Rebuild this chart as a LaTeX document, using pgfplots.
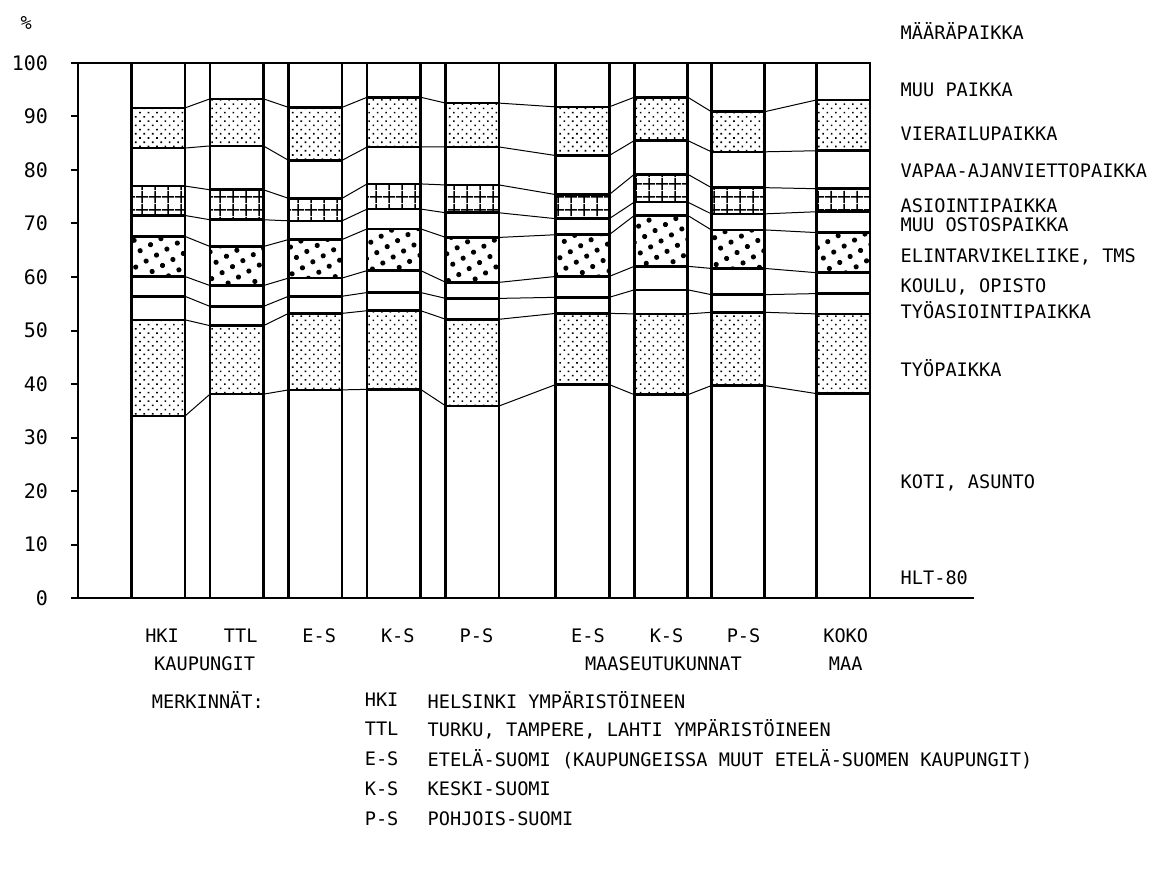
\documentclass[border=0pt]{standalone}
\usepackage{fontspec}
\setmainfont{DejaVu Sans Mono}
\usepackage{pgfplots}
\pgfplotsset{compat=1.18}
\usepackage{pgfplotstable}
\usetikzlibrary{patterns,patterns.meta}

% cumulative tops of the segments (koti ... vierailu, muu paikka = 100)
\pgfplotstableread{
x    c1   c2   c3   c4   c5   c6   c7   c8   c9   c10
0    34.0 52.0 56.4 60.1 67.6 71.5 77.0 84.1 91.6 100
1    38.1 50.9 54.5 58.4 65.7 70.7 76.3 84.5 93.3 100
2    38.9 53.2 56.4 59.8 67.0 70.5 74.7 81.8 91.7 100
3    39.0 53.7 57.1 61.2 69.0 72.7 77.4 84.3 93.6 100
4    35.9 52.1 56.0 59.0 67.4 72.0 77.2 84.3 92.5 100
5.4  39.9 53.2 56.2 60.1 67.9 70.9 75.4 82.7 91.8 100
6.4  38.0 53.1 57.6 62.0 71.5 74.0 79.2 85.5 93.6 100
7.38 39.7 53.4 56.7 61.6 68.8 71.8 76.7 83.4 90.9 100
8.72 38.2 53.1 56.9 60.8 68.3 72.2 76.5 83.6 93.1 100
}\bars

% same values at the left and right edge of each bar, for the joining lines
\pgfplotstableread{
xe   c1   c2   c3   c4   c5   c6   c7   c8   c9
-0.34 34.0 52.0 56.4 60.1 67.6 71.5 77.0 84.1 91.6
0.34  34.0 52.0 56.4 60.1 67.6 71.5 77.0 84.1 91.6
0.66  38.1 50.9 54.5 58.4 65.7 70.7 76.3 84.5 93.3
1.34  38.1 50.9 54.5 58.4 65.7 70.7 76.3 84.5 93.3
1.66  38.9 53.2 56.4 59.8 67.0 70.5 74.7 81.8 91.7
2.34  38.9 53.2 56.4 59.8 67.0 70.5 74.7 81.8 91.7
2.66  39.0 53.7 57.1 61.2 69.0 72.7 77.4 84.3 93.6
3.34  39.0 53.7 57.1 61.2 69.0 72.7 77.4 84.3 93.6
3.66  35.9 52.1 56.0 59.0 67.4 72.0 77.2 84.3 92.5
4.34  35.9 52.1 56.0 59.0 67.4 72.0 77.2 84.3 92.5
5.06  39.9 53.2 56.2 60.1 67.9 70.9 75.4 82.7 91.8
5.74  39.9 53.2 56.2 60.1 67.9 70.9 75.4 82.7 91.8
6.06  38.0 53.1 57.6 62.0 71.5 74.0 79.2 85.5 93.6
6.74  38.0 53.1 57.6 62.0 71.5 74.0 79.2 85.5 93.6
7.04  39.7 53.4 56.7 61.6 68.8 71.8 76.7 83.4 90.9
7.72  39.7 53.4 56.7 61.6 68.8 71.8 76.7 83.4 90.9
8.38  38.2 53.1 56.9 60.8 68.3 72.2 76.5 83.6 93.1
9.06  38.2 53.1 56.9 60.8 68.3 72.2 76.5 83.6 93.1
}\edges

\newcommand\lf{\fontsize{9.3}{11}\selectfont}

\tikzset{
  seg/.style={ybar, bar width=0.68, bar shift=0pt, draw=black, line width=1.3pt, fill=white},
  finedots/.style={postaction={pattern={Dots[distance=3pt, radius=0.55pt, angle=45]}}},
  bigdots/.style={postaction={pattern={Dots[distance=6pt, radius=1.3pt, angle=30]}}},
  gridpat/.style={postaction={pattern={Hatch[angle=0, distance=6.5pt, line width=0.8pt]}}},
}

\begin{document}
\begin{tikzpicture}[font=\lf]
\useasboundingbox (-39pt,-137pt) rectangle (540.5pt,299pt);
\begin{axis}[
    at={(0,0)}, anchor=south west,
    scale only axis,
    width=447.9pt, height=267.5pt,
    xmin=-1.02, xmax=10.38,
    ymin=0, ymax=100,
    axis lines=left,
    axis line style={-, line width=1.4pt},
    xtick=\empty,
    ytick={0,10,...,100},
    tick align=outside,
    major tick length=3.5pt,
    every tick/.style={black, line width=1pt},
    /pgf/number format/assume math mode=true,
    ticklabel style={font=\fontsize{10}{12}\selectfont},
    yticklabel style={xshift=-8pt},
    clip=false,
]
% overlapping bars, tallest first
\addplot[seg] table[x=x, y=c10] {\bars};
\addplot[seg, finedots] table[x=x, y=c9] {\bars};
\addplot[seg] table[x=x, y=c8] {\bars};
\addplot[seg, gridpat] table[x=x, y=c7] {\bars};
\addplot[seg] table[x=x, y=c6] {\bars};
\addplot[seg, bigdots] table[x=x, y=c5] {\bars};
\addplot[seg] table[x=x, y=c4] {\bars};
\addplot[seg] table[x=x, y=c3] {\bars};
\addplot[seg, finedots] table[x=x, y=c2] {\bars};
\addplot[seg] table[x=x, y=c1] {\bars};

\pgfplotsinvokeforeach{1,...,9}{
  \addplot[black, line width=0.5pt, mark=none] table[x=xe, y=c#1] {\edges};
}
\addplot[black, line width=1pt, mark=none] coordinates {(-1.02,100) (9.06,100)};

% labels on the right
\node[anchor=west] at (axis cs:9.36,106.0) {MÄÄRÄPAIKKA};
\node[anchor=west] at (axis cs:9.36,95.0) {MUU PAIKKA};
\node[anchor=west] at (axis cs:9.36,86.7) {VIERAILUPAIKKA};
\node[anchor=west] at (axis cs:9.36,79.8) {VAPAA-AJANVIETTOPAIKKA};
\node[anchor=west] at (axis cs:9.36,73.3) {ASIOINTIPAIKKA};
\node[anchor=west] at (axis cs:9.36,69.7) {MUU OSTOSPAIKKA};
\node[anchor=west] at (axis cs:9.36,63.7) {ELINTARVIKELIIKE, TMS};
\node[anchor=west] at (axis cs:9.36,58.1) {KOULU, OPISTO};
\node[anchor=west] at (axis cs:9.36,53.8) {TYÖASIOINTIPAIKKA};
\node[anchor=west] at (axis cs:9.36,43.0) {TYÖPAIKKA};
\node[anchor=west] at (axis cs:9.36,21.5) {KOTI, ASUNTO};
\node[anchor=west] at (axis cs:9.36,3.7) {HLT-80};
\node at (axis cs:-1.68,107.5) {\%};

% category labels
\node at (axis cs:0.05,-7.1) {HKI};
\node at (axis cs:1.05,-7.1) {TTL};
\node at (axis cs:2.05,-7.1) {E-S};
\node at (axis cs:3.05,-7.1) {K-S};
\node at (axis cs:4.05,-7.1) {P-S};
\node at (axis cs:5.47,-7.1) {E-S};
\node at (axis cs:6.47,-7.1) {K-S};
\node at (axis cs:7.45,-7.1) {P-S};
\node at (axis cs:8.75,-7.1) {KOKO};
\node[anchor=west] at (axis cs:-0.14,-12.3) {KAUPUNGIT};
\node at (axis cs:6.43,-12.3) {MAASEUTUKUNNAT};
\node at (axis cs:8.75,-12.3) {MAA};

% key
\node[anchor=west] at (axis cs:-0.17,-19.1) {MERKINNÄT:};
\node[anchor=west] at (axis cs:2.54,-19.1) {HKI};
\node[anchor=west] at (axis cs:2.54,-24.5) {TTL};
\node[anchor=west] at (axis cs:2.54,-30.1) {E-S};
\node[anchor=west] at (axis cs:2.54,-35.7) {K-S};
\node[anchor=west] at (axis cs:2.54,-41.3) {P-S};
\node[anchor=west] at (axis cs:3.34,-19.1) {HELSINKI YMPÄRISTÖINEEN};
\node[anchor=west] at (axis cs:3.34,-24.5) {TURKU, TAMPERE, LAHTI YMPÄRISTÖINEEN};
\node[anchor=west] at (axis cs:3.34,-30.1) {ETELÄ-SUOMI (KAUPUNGEISSA MUUT ETELÄ-SUOMEN KAUPUNGIT)};
\node[anchor=west] at (axis cs:3.34,-35.7) {KESKI-SUOMI};
\node[anchor=west] at (axis cs:3.34,-41.3) {POHJOIS-SUOMI};
\end{axis}
\end{tikzpicture}
\end{document}
